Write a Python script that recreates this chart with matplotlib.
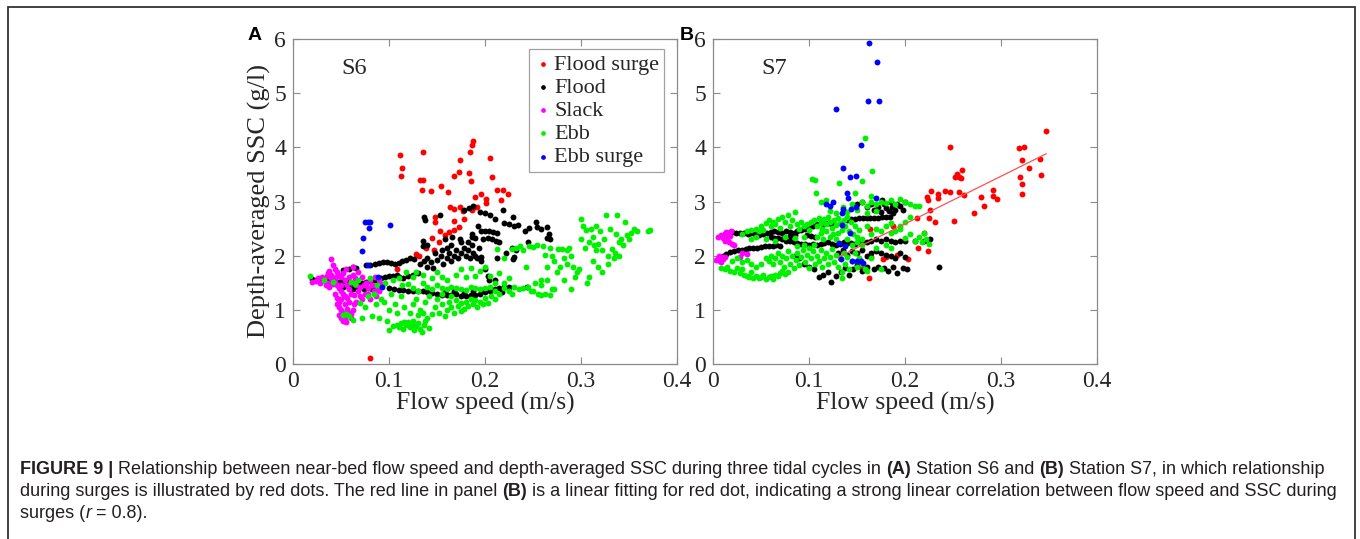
import numpy as np
import matplotlib
matplotlib.use('Agg')
import matplotlib.pyplot as plt
from matplotlib.patches import Rectangle

# ---------------- data (flow speed m/s, SSC g/l) ----------------
series_names = ['Flood surge', 'Flood', 'Slack', 'Ebb', 'Ebb surge']
series_colors = ['#ff0000', '#000000', '#ff00ff', '#00f000', '#0000ff']

# Panel A, station S6
a_flood_surge = [
    (0.111, 3.85), (0.114, 3.62), (0.112, 3.47), (0.135, 3.91), (0.132, 3.40), (0.135, 3.40),
    (0.134, 3.22), (0.144, 3.19), (0.154, 3.29), (0.161, 3.18), (0.168, 3.48), (0.174, 3.77),
    (0.173, 3.54), (0.183, 3.52), (0.185, 3.37), (0.184, 3.91), (0.186, 4.05), (0.188, 4.11),
    (0.205, 3.81), (0.207, 3.45), (0.190, 3.09), (0.196, 3.13), (0.201, 3.05), (0.201, 2.97),
    (0.213, 3.21), (0.219, 3.21), (0.224, 3.14), (0.217, 3.02), (0.164, 2.89), (0.168, 2.86),
    (0.174, 2.90), (0.177, 2.83), (0.189, 2.89), (0.192, 2.89), (0.178, 2.67), (0.168, 2.64),
    (0.173, 2.53), (0.168, 2.47), (0.148, 2.71), (0.148, 2.62), (0.153, 2.46), (0.158, 2.39),
    (0.145, 2.33), (0.152, 2.26), (0.139, 2.15), (0.147, 2.10), (0.128, 2.04), (0.131, 2.00),
    (0.108, 1.75), (0.080, 0.12), (0.163, 2.43), (0.186, 2.85),
]
a_flood = [
    (0.020, 1.57), (0.024, 1.56), (0.028, 1.57), (0.032, 1.56), (0.036, 1.55), (0.040, 1.53),
    (0.044, 1.52), (0.048, 1.52), (0.052, 1.53), (0.056, 1.52), (0.060, 1.50), (0.064, 1.48),
    (0.068, 1.47), (0.072, 1.50), (0.076, 1.52), (0.080, 1.53), (0.084, 1.55), (0.088, 1.56),
    (0.092, 1.58), (0.096, 1.60), (0.100, 1.62), (0.104, 1.62), (0.108, 1.65),
    (0.052, 1.43), (0.058, 1.40), (0.062, 1.38), (0.066, 1.40), (0.070, 1.42), (0.074, 1.38),
    (0.078, 1.40), (0.082, 1.38), (0.090, 1.42),
    (0.052, 1.73), (0.058, 1.76), (0.062, 1.80), (0.066, 1.78), (0.076, 1.83), (0.080, 1.82),
    (0.085, 1.85), (0.090, 1.86), (0.094, 1.88), (0.098, 1.89), (0.102, 1.87), (0.106, 1.85),
    (0.110, 1.87), (0.114, 1.90), (0.118, 1.92), (0.122, 1.95), (0.126, 1.93),
    (0.110, 1.60), (0.115, 1.58), (0.120, 1.62), (0.125, 1.65), (0.130, 1.68),
    (0.132, 1.85), (0.136, 1.90), (0.140, 1.95), (0.140, 1.80), (0.144, 1.88), (0.146, 1.78),
    (0.150, 1.92), (0.148, 2.05), (0.154, 2.00), (0.156, 1.85), (0.160, 1.95), (0.162, 2.05),
    (0.165, 1.90), (0.168, 2.00), (0.170, 2.10), (0.172, 1.95), (0.175, 2.05), (0.178, 2.15),
    (0.180, 2.00), (0.182, 2.10), (0.184, 1.95), (0.186, 2.20), (0.188, 2.05), (0.190, 2.00),
    (0.192, 1.95), (0.194, 2.15), (0.196, 1.98), (0.165, 2.20), (0.160, 2.15), (0.155, 2.10),
    (0.175, 2.25), (0.182, 2.25), (0.186, 2.35), (0.190, 2.32),
    (0.196, 2.45), (0.200, 2.46), (0.204, 2.45), (0.208, 2.44), (0.212, 2.42), (0.198, 2.30),
    (0.203, 2.33), (0.207, 2.30), (0.211, 2.28), (0.215, 2.25),
    (0.135, 2.28), (0.135, 2.18), (0.136, 2.72), (0.137, 2.66), (0.140, 2.20),
    (0.153, 2.76), (0.178, 2.85), (0.183, 2.88), (0.188, 2.92), (0.195, 2.80), (0.200, 2.78),
    (0.205, 2.76), (0.210, 2.68), (0.219, 2.85), (0.220, 2.60), (0.225, 2.58), (0.230, 2.55),
    (0.234, 2.56), (0.229, 2.72), (0.242, 2.46), (0.246, 2.52), (0.253, 2.62), (0.254, 2.53),
    (0.258, 2.50), (0.265, 2.53), (0.267, 2.40), (0.265, 2.33), (0.268, 2.30),
    (0.196, 1.90), (0.200, 1.75), (0.203, 1.62), (0.204, 1.55), (0.210, 1.55), (0.229, 1.93),
    (0.230, 1.98), (0.232, 2.10), (0.228, 2.15), (0.245, 2.25), (0.222, 2.05), (0.212, 1.96),
    (0.158, 2.30), (0.166, 2.35), (0.174, 2.30), (0.193, 2.55), (0.186, 2.40),
    (0.100, 1.40), (0.105, 1.38), (0.110, 1.36), (0.115, 1.37), (0.120, 1.35), (0.125, 1.35),
    (0.130, 1.34), (0.135, 1.34), (0.140, 1.33), (0.145, 1.32), (0.150, 1.30), (0.155, 1.28),
    (0.160, 1.27), (0.165, 1.28), (0.170, 1.30), (0.175, 1.26), (0.180, 1.25), (0.185, 1.27),
    (0.190, 1.28), (0.195, 1.30), (0.200, 1.33), (0.205, 1.35), (0.210, 1.38), (0.215, 1.40),
    (0.220, 1.42), (0.225, 1.43), (0.158, 1.33), (0.168, 1.35), (0.178, 1.32), (0.188, 1.34),
    (0.198, 1.37), (0.218, 1.33), (0.244, 1.43),
]
a_slack = [
    (0.020, 1.52), (0.024, 1.54), (0.028, 1.50), (0.032, 1.55), (0.030, 1.60), (0.035, 1.62),
    (0.036, 1.68), (0.038, 1.72), (0.040, 1.93), (0.042, 1.82), (0.044, 1.75), (0.046, 1.70),
    (0.048, 1.65), (0.050, 1.60), (0.040, 1.58), (0.044, 1.52), (0.046, 1.45), (0.048, 1.40),
    (0.050, 1.35), (0.052, 1.30), (0.054, 1.25), (0.050, 1.20), (0.048, 1.15), (0.046, 1.10),
    (0.048, 1.05), (0.050, 1.00), (0.052, 0.95), (0.048, 0.90), (0.050, 0.85), (0.052, 0.80),
    (0.054, 0.83), (0.056, 0.88), (0.058, 0.95), (0.056, 1.02), (0.054, 1.10), (0.058, 1.15),
    (0.056, 1.22), (0.060, 1.30), (0.058, 1.38), (0.056, 1.45), (0.060, 1.52), (0.058, 1.60),
    (0.062, 1.65), (0.065, 1.58), (0.066, 1.45), (0.068, 1.35), (0.064, 1.28), (0.070, 1.25),
    (0.072, 1.20), (0.075, 1.30), (0.078, 1.40), (0.076, 1.50), (0.080, 1.55), (0.082, 1.45),
    (0.084, 1.35), (0.086, 1.25), (0.088, 1.42), (0.090, 1.55), (0.072, 1.60), (0.068, 1.70),
    (0.062, 1.80), (0.055, 1.75), (0.052, 1.68), (0.045, 1.60), (0.042, 1.48), (0.038, 1.42),
    (0.036, 1.50), (0.055, 0.78), (0.060, 0.85), (0.062, 1.00), (0.064, 1.10), (0.044, 1.30),
    (0.046, 1.22), (0.050, 1.45), (0.054, 1.55), (0.070, 1.42), (0.074, 1.45), (0.080, 1.20),
    (0.078, 1.30), (0.085, 1.60), (0.090, 1.35), (0.092, 1.48), (0.060, 0.92), (0.066, 1.15),
    (0.040, 1.65), (0.034, 1.45), (0.026, 1.58),
]
a_ebb = [
    (0.018, 1.62), (0.032, 1.55), (0.042, 1.52), (0.052, 0.90), (0.055, 0.92), (0.058, 0.88),
    (0.062, 0.82), (0.060, 1.52), (0.065, 1.48), (0.068, 1.55), (0.070, 1.12), (0.072, 0.85),
    (0.075, 1.05), (0.078, 1.25), (0.080, 1.58), (0.082, 0.88), (0.084, 1.30), (0.086, 1.10),
    (0.088, 1.45), (0.090, 0.85), (0.092, 1.20), (0.095, 1.15), (0.096, 1.50), (0.098, 0.80),
    (0.100, 1.00), (0.102, 1.30), (0.104, 1.55), (0.106, 1.10), (0.108, 0.95), (0.110, 1.58),
    (0.112, 1.25), (0.114, 1.45), (0.116, 1.05), (0.118, 1.70), (0.120, 1.48),
    (0.100, 0.62), (0.104, 0.70), (0.108, 0.72), (0.110, 0.68), (0.112, 0.75), (0.115, 0.65),
    (0.118, 0.72), (0.120, 0.78), (0.122, 0.68), (0.124, 0.72), (0.126, 0.62), (0.128, 0.70),
    (0.130, 0.75), (0.132, 0.65), (0.134, 0.60), (0.136, 0.72), (0.138, 0.80), (0.142, 0.66),
    (0.125, 0.80), (0.116, 0.78),
    (0.122, 0.95), (0.125, 1.10), (0.128, 1.20), (0.130, 0.90), (0.132, 1.00), (0.135, 0.95),
    (0.138, 1.15), (0.140, 0.85), (0.142, 1.25), (0.145, 0.92), (0.148, 1.05), (0.150, 1.20),
    (0.152, 0.95), (0.155, 1.10), (0.158, 0.88), (0.160, 1.00), (0.162, 1.15), (0.165, 1.05),
    (0.168, 0.95), (0.170, 1.18), (0.172, 1.08), (0.175, 1.12), (0.178, 1.02), (0.180, 1.15),
    (0.182, 1.08), (0.185, 1.20), (0.188, 1.10), (0.190, 1.18), (0.192, 1.05), (0.195, 1.15),
    (0.198, 1.10), (0.200, 1.22), (0.203, 1.12), (0.206, 1.25), (0.210, 1.20), (0.175, 0.98),
    (0.165, 1.25), (0.155, 1.30),
    (0.125, 1.40), (0.130, 1.35), (0.135, 1.50), (0.140, 1.42), (0.145, 1.38), (0.150, 1.45),
    (0.155, 1.40), (0.160, 1.38), (0.165, 1.42), (0.170, 1.40), (0.175, 1.38), (0.180, 1.36),
    (0.185, 1.42), (0.190, 1.40), (0.195, 1.38), (0.200, 1.40), (0.205, 1.42), (0.210, 1.35),
    (0.215, 1.30), (0.220, 1.40), (0.225, 1.35), (0.230, 1.42), (0.235, 1.38), (0.240, 1.40),
    (0.245, 1.42), (0.250, 1.35), (0.255, 1.30), (0.258, 1.28), (0.262, 1.30), (0.268, 1.27),
    (0.272, 1.38), (0.228, 1.30),
    (0.125, 1.60), (0.128, 1.70), (0.135, 1.65), (0.145, 1.58), (0.150, 1.70), (0.155, 1.60),
    (0.160, 1.55), (0.170, 1.65), (0.175, 1.75), (0.180, 1.60), (0.185, 1.78), (0.190, 1.62),
    (0.195, 1.72), (0.205, 1.62), (0.210, 1.50), (0.215, 1.68), (0.220, 1.50), (0.225, 1.58),
    (0.200, 1.80),
    (0.212, 2.13), (0.220, 1.95), (0.228, 2.12), (0.232, 2.15), (0.236, 2.18), (0.240, 2.10),
    (0.243, 1.80), (0.246, 2.18), (0.250, 2.16), (0.254, 2.20), (0.258, 1.55), (0.258, 1.45),
    (0.260, 2.18), (0.262, 2.02), (0.265, 1.80), (0.268, 2.15), (0.270, 2.00), (0.272, 1.90),
    (0.275, 1.70), (0.278, 1.80), (0.280, 2.12), (0.282, 1.95), (0.285, 1.85), (0.288, 2.15),
    (0.290, 2.00), (0.292, 1.80), (0.294, 1.60), (0.296, 1.70), (0.298, 1.75), (0.265, 1.55),
    (0.270, 1.38), (0.290, 1.38), (0.282, 1.55), (0.276, 2.13), (0.285, 2.10), (0.252, 1.50),
    (0.248, 1.35),
    (0.300, 2.68), (0.302, 2.55), (0.305, 2.48), (0.306, 1.50), (0.308, 1.60), (0.310, 2.50),
    (0.312, 1.90), (0.314, 2.20), (0.316, 2.55), (0.318, 1.80), (0.320, 2.45), (0.322, 1.70),
    (0.324, 2.30), (0.326, 2.75), (0.328, 2.00), (0.330, 2.50), (0.332, 2.12), (0.334, 1.95),
    (0.336, 2.40), (0.338, 2.75), (0.340, 2.00), (0.342, 2.30), (0.344, 2.20), (0.346, 2.62),
    (0.348, 2.38), (0.350, 2.30), (0.352, 2.42), (0.355, 2.50), (0.358, 2.45), (0.370, 2.45),
    (0.372, 2.48), (0.304, 2.15), (0.312, 2.35), (0.318, 2.22), (0.322, 2.10), (0.328, 1.85),
    (0.335, 2.05), (0.340, 2.25), (0.300, 2.30), (0.308, 2.25), (0.316, 2.10),
]
a_ebb_surge = [
    (0.075, 2.62), (0.078, 2.62), (0.080, 2.62), (0.079, 2.52), (0.073, 2.33), (0.072, 2.09),
    (0.101, 2.57), (0.093, 1.42), (0.089, 1.60), (0.078, 1.83),
]

# Panel B, station S7
b_flood_surge = [
    (0.347, 4.30), (0.247, 4.01), (0.319, 3.98), (0.324, 4.01), (0.322, 3.77), (0.341, 3.78),
    (0.329, 3.62), (0.259, 3.58), (0.254, 3.50), (0.256, 3.46), (0.252, 3.45), (0.258, 3.43),
    (0.320, 3.46), (0.342, 3.49), (0.322, 3.32), (0.322, 3.14), (0.247, 3.18), (0.242, 3.20),
    (0.256, 3.18), (0.261, 3.12), (0.227, 3.20), (0.223, 3.09), (0.224, 3.02), (0.234, 3.14),
    (0.234, 3.06), (0.292, 3.21), (0.292, 3.11), (0.279, 3.08), (0.282, 2.92), (0.296, 3.04),
    (0.272, 2.78), (0.251, 2.64), (0.226, 2.84), (0.225, 2.69), (0.231, 2.62), (0.212, 2.70),
    (0.220, 2.41), (0.187, 2.55), (0.214, 2.15), (0.224, 2.09), (0.203, 1.94), (0.192, 2.02),
    (0.180, 1.97), (0.177, 1.94), (0.165, 1.98), (0.162, 1.59), (0.164, 2.50), (0.154, 1.80),
]
b_flood = [
    (0.012, 2.40), (0.016, 2.42), (0.020, 2.43), (0.024, 2.42), (0.028, 2.42), (0.032, 2.41),
    (0.036, 2.40), (0.040, 2.41), (0.044, 2.40), (0.048, 2.38), (0.052, 2.40), (0.056, 2.42),
    (0.060, 2.43), (0.064, 2.45), (0.068, 2.43), (0.072, 2.42), (0.076, 2.45), (0.080, 2.43),
    (0.084, 2.42), (0.088, 2.45), (0.092, 2.48), (0.096, 2.50), (0.100, 2.52), (0.104, 2.55),
    (0.108, 2.58), (0.112, 2.60), (0.116, 2.58), (0.120, 2.60), (0.124, 2.57),
    (0.010, 2.00), (0.014, 2.04), (0.018, 2.07), (0.022, 2.08), (0.026, 2.10), (0.030, 2.10),
    (0.034, 2.12), (0.038, 2.14), (0.042, 2.15), (0.046, 2.15), (0.050, 2.16), (0.054, 2.17),
    (0.058, 2.18), (0.062, 2.18), (0.066, 2.19), (0.070, 2.18),
    (0.060, 2.35), (0.064, 2.33), (0.068, 2.32), (0.072, 2.30), (0.076, 2.28), (0.080, 2.27),
    (0.084, 2.26), (0.088, 2.24), (0.092, 2.22), (0.096, 2.22), (0.100, 2.20), (0.104, 2.21),
    (0.108, 2.20), (0.112, 2.22), (0.116, 2.24), (0.120, 2.25), (0.124, 2.22), (0.128, 2.20),
    (0.132, 2.22), (0.136, 2.25), (0.140, 2.23), (0.144, 2.24), (0.148, 2.22), (0.152, 2.25),
    (0.156, 2.26), (0.160, 2.25), (0.165, 2.28), (0.170, 2.30), (0.175, 2.28), (0.180, 2.30),
    (0.185, 2.28), (0.190, 2.26), (0.195, 2.28), (0.200, 2.27), (0.210, 2.28), (0.220, 2.28),
    (0.226, 2.30), (0.098, 2.38), (0.102, 2.36), (0.106, 2.34), (0.080, 2.36), (0.085, 2.38),
    (0.140, 2.65), (0.144, 2.68), (0.148, 2.68), (0.152, 2.70), (0.156, 2.70), (0.160, 2.70),
    (0.164, 2.69), (0.168, 2.70), (0.172, 2.70), (0.176, 2.72), (0.180, 2.71), (0.184, 2.72),
    (0.150, 2.95), (0.155, 3.00), (0.160, 2.90), (0.165, 2.95), (0.168, 2.85), (0.172, 2.90),
    (0.175, 2.80), (0.178, 2.95), (0.180, 2.88), (0.183, 2.82), (0.186, 2.90), (0.188, 2.78),
    (0.190, 2.85), (0.192, 2.95), (0.195, 2.92), (0.198, 2.85), (0.200, 3.00), (0.185, 3.00),
    (0.176, 3.02),
    (0.130, 2.05), (0.135, 2.10), (0.140, 2.02), (0.145, 2.08), (0.150, 2.05), (0.155, 2.10),
    (0.160, 2.00), (0.165, 2.05), (0.170, 2.08), (0.175, 2.05), (0.180, 2.02), (0.185, 2.00),
    (0.190, 1.95), (0.195, 2.05), (0.200, 1.98),
    (0.110, 1.60), (0.115, 1.65), (0.120, 1.70), (0.123, 1.52), (0.128, 1.62), (0.133, 1.70),
    (0.138, 1.78), (0.142, 1.65), (0.146, 1.75), (0.150, 1.82), (0.155, 1.72), (0.160, 1.80),
    (0.168, 1.75), (0.172, 1.80), (0.178, 1.78), (0.182, 1.72), (0.188, 1.80), (0.192, 1.68),
    (0.198, 1.78), (0.202, 1.75), (0.235, 1.80), (0.100, 1.80), (0.105, 1.75), (0.095, 1.85),
    (0.090, 1.95), (0.085, 2.00),
]
b_slack = [
    (0.003, 1.92), (0.005, 1.95), (0.007, 1.90), (0.009, 1.97), (0.010, 1.93), (0.012, 1.98),
    (0.006, 2.00), (0.008, 1.88), (0.005, 2.35), (0.008, 2.38), (0.010, 2.33), (0.012, 2.40),
    (0.014, 2.44), (0.016, 2.42), (0.018, 2.36), (0.015, 2.30), (0.017, 2.25), (0.020, 2.22),
    (0.012, 2.28), (0.022, 2.20), (0.028, 1.98), (0.030, 2.05), (0.035, 2.03), (0.019, 2.45),
]
b_ebb = [
    (0.008, 1.78), (0.012, 1.75), (0.015, 1.80), (0.018, 1.72), (0.022, 1.70), (0.025, 1.78),
    (0.028, 1.68), (0.030, 1.75), (0.032, 1.65), (0.035, 1.62), (0.038, 1.60), (0.040, 1.70),
    (0.042, 1.58), (0.045, 1.62), (0.048, 1.58), (0.050, 1.60), (0.052, 1.65), (0.055, 1.57),
    (0.058, 1.60), (0.060, 1.62), (0.062, 1.57), (0.065, 1.65), (0.068, 1.62), (0.070, 1.68),
    (0.072, 1.72), (0.075, 1.66), (0.078, 1.70),
    (0.020, 1.90), (0.025, 1.95), (0.030, 1.88), (0.035, 1.92), (0.040, 1.85), (0.045, 1.80),
    (0.050, 1.85), (0.055, 1.95), (0.058, 1.90), (0.060, 2.00), (0.062, 1.85), (0.065, 1.95),
    (0.068, 2.05), (0.070, 1.88), (0.072, 2.00), (0.074, 1.80), (0.076, 1.95), (0.078, 2.08),
    (0.080, 1.85), (0.082, 2.00), (0.084, 1.78), (0.086, 1.92), (0.088, 2.05), (0.090, 1.82),
    (0.092, 1.98), (0.094, 2.10), (0.096, 1.88), (0.098, 2.02), (0.100, 1.78), (0.102, 1.95),
    (0.104, 2.08), (0.106, 1.85), (0.108, 2.00), (0.110, 1.90), (0.112, 2.10), (0.114, 1.80),
    (0.116, 1.95), (0.118, 2.05), (0.120, 1.85), (0.122, 1.98), (0.124, 2.12), (0.126, 1.88),
    (0.128, 2.02), (0.130, 1.80), (0.132, 1.95), (0.134, 1.70), (0.136, 2.05), (0.138, 1.85),
    (0.140, 1.98), (0.142, 1.75), (0.145, 1.90), (0.148, 2.05), (0.150, 1.80), (0.152, 1.95),
    (0.155, 1.85), (0.158, 1.75), (0.134, 1.58), (0.160, 1.72), (0.088, 2.18), (0.095, 2.20),
    (0.100, 2.15), (0.105, 2.20),
    (0.030, 2.40), (0.035, 2.45), (0.040, 2.48), (0.045, 2.50), (0.048, 2.45), (0.050, 2.55),
    (0.052, 2.48), (0.055, 2.60), (0.058, 2.65), (0.060, 2.55), (0.062, 2.62), (0.065, 2.58),
    (0.068, 2.68), (0.070, 2.52), (0.072, 2.72), (0.075, 2.62), (0.078, 2.75), (0.080, 2.55),
    (0.082, 2.65), (0.085, 2.80), (0.088, 2.58), (0.090, 2.50), (0.092, 2.62), (0.095, 2.55),
    (0.098, 2.58), (0.100, 2.48), (0.102, 2.62), (0.040, 2.30), (0.045, 2.35), (0.055, 2.30),
    (0.065, 2.28), (0.075, 2.35), (0.085, 2.32), (0.095, 2.35),
    (0.105, 2.65), (0.108, 2.55), (0.110, 2.70), (0.112, 2.60), (0.114, 2.50), (0.116, 2.68),
    (0.118, 2.58), (0.120, 2.72), (0.122, 2.62), (0.124, 2.52), (0.126, 2.66), (0.128, 2.56),
    (0.130, 2.70), (0.132, 2.60), (0.134, 2.48), (0.136, 2.65), (0.138, 2.55), (0.140, 2.72),
    (0.142, 2.45), (0.144, 2.62), (0.146, 2.40), (0.148, 2.55), (0.150, 2.35), (0.152, 2.48),
    (0.155, 2.30), (0.112, 2.42), (0.118, 2.45), (0.125, 2.40), (0.130, 2.42), (0.108, 2.35),
    (0.115, 2.30), (0.122, 2.35), (0.128, 2.30),
    (0.122, 2.82), (0.128, 2.78), (0.135, 2.90), (0.140, 2.80), (0.145, 2.95), (0.150, 2.85),
    (0.155, 3.00), (0.160, 2.92), (0.165, 3.00), (0.170, 2.95), (0.175, 3.00), (0.180, 2.98),
    (0.185, 3.02), (0.190, 2.95), (0.195, 3.05), (0.200, 3.00), (0.205, 2.95), (0.210, 2.92),
    (0.160, 2.78), (0.170, 2.82),
    (0.103, 3.42), (0.106, 3.40), (0.107, 3.15), (0.131, 3.35), (0.155, 3.38), (0.158, 4.18),
    (0.166, 3.57), (0.118, 3.02), (0.148, 3.15), (0.165, 3.10), (0.112, 3.00),
    (0.165, 2.40), (0.170, 2.50), (0.175, 2.45), (0.180, 2.55), (0.185, 2.42), (0.190, 2.45),
    (0.195, 2.55), (0.200, 2.32), (0.205, 2.40), (0.210, 2.28), (0.215, 2.35), (0.218, 2.25),
    (0.220, 2.42), (0.222, 2.30), (0.225, 2.22), (0.200, 2.62), (0.195, 2.50), (0.185, 2.60),
    (0.180, 2.20), (0.175, 1.75), (0.185, 2.15), (0.160, 2.55), (0.165, 1.95), (0.170, 2.15),
    (0.145, 2.20), (0.150, 2.25), (0.140, 2.30), (0.155, 2.20), (0.215, 2.92), (0.205, 2.72),
]
b_ebb_surge = [
    (0.163, 5.92), (0.171, 5.57), (0.161, 4.86), (0.173, 4.86), (0.128, 4.70), (0.154, 4.05),
    (0.135, 3.61), (0.143, 3.45), (0.149, 3.48), (0.140, 3.15), (0.141, 3.06), (0.170, 3.06),
    (0.125, 3.00), (0.118, 2.95), (0.122, 2.92), (0.135, 2.86), (0.134, 2.78), (0.144, 2.87),
    (0.149, 2.89), (0.134, 2.57), (0.143, 2.41), (0.131, 2.23), (0.137, 2.17), (0.145, 1.90),
    (0.150, 1.90), (0.154, 1.90), (0.133, 1.93), (0.156, 1.86),
]

# linear fit of the surge points in panel B (end points of the drawn line)
b_fit_x = [0.130, 0.347]
b_fit_y = [1.97, 3.88]

panels = [
    ('A', 'S6', [a_flood_surge, a_flood, a_slack, a_ebb, a_ebb_surge]),
    ('B', 'S7', [b_flood_surge, b_flood, b_slack, b_ebb, b_ebb_surge]),
]

x_ticks = [0, 0.1, 0.2, 0.3, 0.4]
x_tick_labels = ['0', '0.1', '0.2', '0.3', '0.4']
y_ticks = [0, 1, 2, 3, 4, 5, 6]

caption_lines = [
    [('FIGURE 9 |', 'bold', 'normal'),
     (' Relationship between near-bed flow speed and depth-averaged SSC during three tidal cycles in ', 'normal', 'normal'),
     ('(A)', 'bold', 'normal'), (' Station S6 and ', 'normal', 'normal'),
     ('(B)', 'bold', 'normal'), (' Station S7, in which relationship', 'normal', 'normal')],
    [('during surges is illustrated by red dots. The red line in panel ', 'normal', 'normal'),
     ('(B)', 'bold', 'normal'),
     (' is a linear fitting for red dot, indicating a strong linear correlation between flow speed and SSC during', 'normal', 'normal')],
    [('surges (', 'normal', 'normal'), ('r', 'normal', 'italic'), (' = 0.8).', 'normal', 'normal')],
]

# ---------------- drawing ----------------
W, H = 1360, 539
fig = plt.figure(figsize=(W / 100, H / 100), dpi=100)
serif = 'Liberation Serif'
axis_grey = '#8a8a8a'
text_grey = '#262626'

# outer frame of the figure panel
fig.patches.append(Rectangle((8 / W, -0.02), (1355 - 8) / W, 1 - 7 / H + 0.02,
                             transform=fig.transFigure, fill=False,
                             edgecolor='#333333', linewidth=1.3))

ax_left = [293, 713]
for i, (letter, station, data) in enumerate(panels):
    ax = fig.add_axes([ax_left[i] / W, (H - 364) / H, 384 / W, 325 / H])
    handles = []
    for pts, name, col in zip(data, series_names, series_colors):
        arr = np.array(pts)
        h = ax.scatter(arr[:, 0], arr[:, 1], s=18, color=col, linewidths=0, label=name, zorder=2)
        handles.append(h)
    if letter == 'B':
        ax.plot(b_fit_x, b_fit_y, color='#ff5050', linewidth=0.9, zorder=3)

    ax.set_xlim(0, 0.4)
    ax.set_ylim(0, 6)
    ax.set_xticks(x_ticks)
    ax.set_xticklabels(x_tick_labels)
    ax.set_yticks(y_ticks)
    ax.tick_params(direction='in', length=5, width=0.8, top=True, right=True,
                   color=axis_grey, labelcolor=text_grey, labelsize=17, pad=5)
    for lab in ax.get_xticklabels() + ax.get_yticklabels():
        lab.set_fontfamily(serif)
    for sp in ax.spines.values():
        sp.set_color(axis_grey)
        sp.set_linewidth(0.9)
    ax.set_xlabel('Flow speed (m/s)', fontsize=18.5, family=serif, color=text_grey, labelpad=0)
    if letter == 'A':
        ax.set_ylabel('Depth-averaged SSC (g/l)', fontsize=19, family=serif, color=text_grey, labelpad=2)
        leg = ax.legend(handles=handles, loc='upper right', bbox_to_anchor=(0.966, 0.969),
                        prop={'family': serif, 'size': 16}, markerscale=0.8,
                        handletextpad=0.1, labelspacing=0.12, borderpad=0.22,
                        handlelength=0.8, frameon=True, fancybox=False,
                        borderaxespad=0)
        leg.get_frame().set_edgecolor(axis_grey)
        leg.get_frame().set_linewidth(0.9)
        for t in leg.get_texts():
            t.set_color(text_grey)
    ax.text(0.05, 5.46, station, fontsize=17.5, family=serif, color=text_grey,
            ha='left', va='center')

# panel letters
fig.text(255 / W, 1 - 35 / H, 'A', fontsize=14, fontweight='bold', family='Liberation Sans',
         ha='center', va='center')
fig.text(687 / W, 1 - 35 / H, 'B', fontsize=14, fontweight='bold', family='Liberation Sans',
         ha='center', va='center')

# caption, built piece by piece so bold / italic parts can be mixed
renderer = fig.canvas.get_renderer()
cap_size = 13.0
cap_family = 'Liberation Sans'
cap_y = [470, 492, 514]


def text_width(s, weight, style):
    t = fig.text(0, 0, s, fontsize=cap_size, fontweight=weight, fontstyle=style, family=cap_family)
    w = t.get_window_extent(renderer).width
    t.remove()
    return w


for line, yy in zip(caption_lines, cap_y):
    x = 20.0
    for s, weight, style in line:
        fig.text(x / W, 1 - yy / H, s, fontsize=cap_size, fontweight=weight, fontstyle=style,
                 family=cap_family, color='#231f20', ha='left', va='center')
        # measure with a marker so leading/trailing spaces count
        x += text_width('|' + s + '|', weight, style) - text_width('||', weight, style)

fig.savefig('out.png', dpi=100)
